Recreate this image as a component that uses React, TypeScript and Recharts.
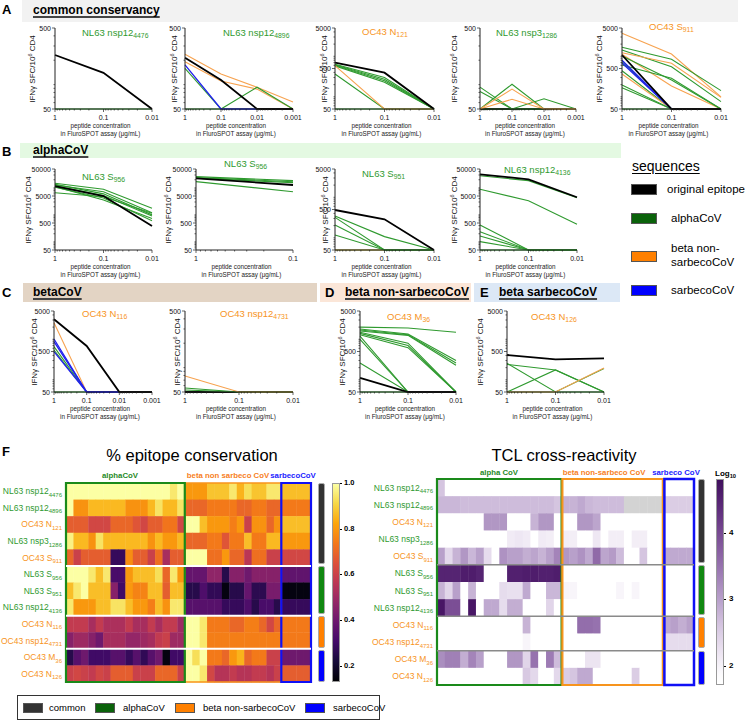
import React from 'react';
import { LineChart, Line, XAxis, YAxis, ScatterChart, Scatter, ReferenceArea, ReferenceLine } from 'recharts';

const FONT = 'Arial, "Liberation Sans", Helvetica, sans-serif';
const GREEN = '#2f9a2f';
const ORANGE = '#f7941d';
const BLUE = '#1a1aff';

// ---------------- line-panel data: [colour, values at each concentration] ----------------
const X2 = [1, 0.1];
const X3 = [1, 0.1, 0.01];
const X4 = [1, 0.1, 0.01, 0.001];

const A1: [string, number[]][] = [['lg', [50, 50, 50]], ['k', [232, 140, 50]]];
const A2: [string, number[]][] = [
  ['lg', [50, 50, 50, 50]], ['o', [237, 135, 93, 61]], ['o', [192, 111, 88, 50]],
  ['g', [159, 50, 93, 50]], ['b', [175, 50, 50, 50]], ['k', [215, 114, 50, 50]],
];
const A3: [string, number[]][] = [
  ['lg', [50, 50, 50]], ['g', [640, 300, 50]], ['g', [620, 270, 50]], ['g', [600, 250, 50]],
  ['g', [580, 230, 50]], ['g', [366, 50, 50]], ['o', [587, 50, 50]], ['k', [695, 394, 50]],
];
const A4: [string, number[]][] = [
  ['lg', [50, 50, 50, 50]], ['k', [50, 50, 50, 50]], ['g', [93, 50, 50, 50]], ['g', [82, 50, 50, 50]],
  ['g', [50, 101, 50, 50]], ['g', [50, 50, 67, 50]], ['o', [50, 88, 50, 50]], ['o', [50, 66, 50, 50]],
];
const A5: [string, number[]][] = [
  ['lg', [50, 50, 50]], ['o', [3700, 1140, 100]], ['g', [1670, 843, 142]], ['g', [1430, 554, 76]],
  ['o', [1227, 672, 97]], ['o', [1122, 185, 50]], ['g', [1018, 260, 50]], ['g', [610, 286, 50]],
  ['g', [736, 50, 50]], ['g', [441, 50, 50]], ['o', [366, 50, 50]], ['g', [196, 50, 50]],
  ['g', [168, 50, 50]], ['b', [800, 50, 50]], ['b', [680, 50, 50]], ['k', [1078, 50, 50]],
];
const B1: [string, number[]][] = [
  ['g', [14800, 8850, 1750]], ['g', [12800, 7230, 1200]], ['g', [11100, 3550, 740]],
  ['g', [13500, 6000, 1000]], ['g', [12000, 5200, 900]], ['g', [6630, 4700, 1140]],
  ['g', [10500, 4200, 600]], ['k', [11700, 5000, 387]],
];
const B2: [string, number[]][] = [
  ['g', [26000, 18500]], ['g', [24200, 16900]], ['g', [23000, 15600]], ['g', [17000, 7230]], ['k', [22600, 12800]],
];
const B3: [string, number[]][] = [
  ['lg', [50, 50, 50]], ['o', [50, 50, 50]], ['g', [346, 107, 50]], ['g', [320, 50, 50]],
  ['g', [207, 50, 50]], ['g', [117, 50, 50]], ['k', [486, 286, 50]],
];
const B4: [string, number[]][] = [
  ['lg', [50, 50, 50]], ['g', [28000, 18500, 4300]], ['g', [8850, 3350, 448]], ['g', [422, 50, 50]],
  ['g', [238, 50, 50]], ['g', [165, 50, 50]], ['g', [102, 50, 50]], ['k', [31700, 20800, 4500]],
];
const C1: [string, number[]][] = [
  ['lg', [50, 50, 50, 50]], ['o', [2570, 50, 50, 50]], ['g', [658, 50, 50, 50]], ['g', [544, 50, 50, 50]],
  ['b', [1018, 50, 50, 50]], ['b', [873, 50, 50, 50]], ['b', [494, 50, 50, 50]], ['k', [3120, 684, 50, 50]],
];
const C2: [string, number[]][] = [
  ['k', [50, 50, 50]], ['g', [56, 50, 50]], ['g', [53, 50, 50]], ['o', [79, 50, 50]],
];
const D1: [string, number[]][] = [
  ['lg', [50, 50, 50]], ['g', [2000, 1900, 1500]], ['g', [1800, 1350, 300]], ['g', [1700, 1300, 260]],
  ['g', [1600, 1250, 230]], ['g', [1500, 800, 50]], ['g', [1400, 700, 50]], ['g', [1300, 620, 50]],
  ['g', [1200, 50, 50]], ['g', [1000, 50, 50]], ['g', [260, 50, 50]], ['k', [111, 50, 50]],
];
const E1: [string, number[]][] = [
  ['lg', [50, 50, 50]], ['g', [256, 50, 190]], ['g', [240, 175, 50]], ['g', [50, 175, 50]],
  ['o', [50, 50, 195]], ['k', [410, 321, 340]],
];

// ---------------- heatmap data ----------------
const ROW_NAMES = ['NL63 nsp12', 'NL63 nsp12', 'OC43 N', 'NL63 nsp3', 'OC43 S', 'NL63 S', 'NL63 S', 'NL63 nsp12', 'OC43 N', 'OC43 nsp12', 'OC43 M', 'OC43 N'];
const ROW_SUBS = ['4476', '4896', '121', '1286', '911', '956', '951', '4136', '116', '4731', '36', '126'];

const consAlpha = [
  [1, 1, 1, 1, 1, 1, 1, 1, 1, 1, 1, 1, 1, 1, 0.95, 1],
  [1, .79, .79, .86, .86, .86, .86, .86, .79, .79, .79, .86, .94, .86, .86, .94],
  [.68, .68, .68, .62, .62, .62, .7, .7, .7, .66, .62, .68, .68, .73, .73, .62],
  [.97, .86, .86, .79, .94, .86, .86, .86, .86, .86, .86, .79, .86, .8, .8, .86],
  [.7, .6, .68, .68, .68, .68, .28, .28, .78, .68, .68, .6, .72, .52, .68, .68],
  [1, 1, 1, .95, .87, .95, .32, .32, .8, .87, .87, .87, .93, .7, .95, .8],
  [.87, .95, 1, .87, .87, .87, .45, .3, .8, .76, .76, .87, .87, .68, .87, .87],
  [.95, .8, .8, .8, .87, .87, .94, .94, .87, .8, .8, .75, .87, .79, .95, .95],
  [.58, .58, .58, .52, .58, .53, .53, .53, .58, .52, .52, .58, .52, .58, .58, .5],
  [.45, .5, .5, .45, .4, .52, .52, .52, .48, .48, .5, .52, .58, .6, .5, .5],
  [.25, .35, .4, .3, .3, .3, .35, .35, .28, .35, .27, .35, .4, .15, .3, .3],
  [.6, .62, .6, .58, .62, .6, .68, .68, .68, .6, .6, .6, .7, .7, .7, .6],
];
const consBeta = [
  [.8, .8, .8, .88, .88, .88, .95, .85, .93, .88, .88, .95, .95],
  [.7, .7, .7, .74, .74, .74, .74, .7, .7, .74, .74, .7, .7],
  [1, 1, .87, .8, .8, .8, .75, .8, .6, .79, .79, .7, .79],
  [.7, .7, .7, .74, .74, .66, .74, .74, .87, .74, .74, .86, .86],
  [1, 1, 1, .72, .72, .8, .7, .7, .56, .72, .72, .6, .6],
  [.38, .38, .38, .47, .47, .25, .45, .45, .4, .45, .45, .45, .45],
  [.25, .25, .33, .27, .27, .15, .25, .25, .38, .26, .26, .42, .42],
  [.35, .35, .35, .35, .35, .28, .28, .28, .33, .25, .32, .32, .25],
  [1, 1, .95, .74, .74, .74, .7, .7, .75, .75, .7, .62, .7],
  [1, 1, .95, .75, .75, .75, .75, .75, .75, .75, .75, .75, .75],
  [1, .93, 1, .74, .74, .7, .8, .85, .7, .74, .74, .6, .6],
  [1, 1, .95, .62, .55, .55, .58, .55, .55, .58, .58, .55, .6],
];
const consSarb = [
  [.87, .87, .87, .87], [.74, .74, .74, .74], [.87, .87, .87, .87], [.8, .8, .8, .8],
  [.62, .62, .62, .62], [.37, .37, .37, .37], [.15, .15, .15, .15], [.28, .28, .28, .28],
  [.74, .74, .74, .74], [.74, .74, .74, .74], [.4, .4, .4, .4], [.68, .68, .68, .68],
];

const tclAlpha = [
  [2.6, 0, 0, 0, 0, 0, 0, 0, 0, 0, 0, 0, 0, 0, 0, 0],
  [2.75, 2.75, 2.75, 2.7, 2.7, 2.7, 2.7, 2.7, 2.7, 2.7, 2.7, 2.7, 2.7, 2.7, 2.7, 2.6],
  [0, 0, 0, 0, 0, 0, 3.1, 3.1, 3.1, 0, 0, 0, 2.8, 3.1, 3.1, 0],
  [0, 0, 0, 0, 0, 0, 0, 0, 0, 2.1, 2.15, 2.1, 0, 2.1, 2.05, 0],
  [3.0, 2.35, 2.8, 3.1, 2.75, 3.0, 2.3, 0, 3.15, 3.0, 3.0, 2.85, 2.95, 2.8, 3.0, 3.3],
  [4.5, 4.5, 4.5, 4.6, 4.6, 4.5, 0, 0, 0, 4.55, 4.55, 4.6, 4.6, 4.55, 4.55, 4.6],
  [2.8, 2.4, 3.0, 0, 2.8, 0, 0, 0, 2.3, 2.25, 2.25, 2.9, 0, 0, 2.75, 2.75],
  [4.7, 3.95, 3.95, 0, 4.7, 0, 2.9, 2.9, 2.3, 2.85, 2.85, 0, 0, 0, 2.4, 0],
  [0, 0, 0, 0, 0, 0, 0, 0, 0, 0, 0, 2.8, 0, 0, 0, 0],
  [0, 0, 0, 0, 0, 0, 0, 0, 0, 0, 0, 1.95, 0, 0, 0, 0],
  [3.2, 3.35, 3.35, 2.85, 3.3, 3.0, 0, 0, 0, 3.1, 3.1, 2.4, 3.5, 0, 3.4, 2.7],
  [0, 0, 0, 0, 0, 0, 0, 0, 0, 0, 0, 2.55, 2.35, 0, 0, 2.35],
];
const tclBeta = [
  [0, 0, 0, 0, 0, 0, 0, 0, 0, 0, 0, 0, 0],
  [2.8, 2.8, 2.9, 2.75, 2.7, 2.7, 2.7, 2.7, -1, -1, -1, -1, -1],
  [0, 0, 3.1, 3.1, 2.95, 0, 0, 0, 0, 0, 0, 0, 0],
  [2.05, 2.05, 0, 0, 2.15, 0, 2.05, 2.05, 0, 2.05, 2.05, 0, 0],
  [3.1, 3.0, 3.15, 2.9, 3.6, 2.95, 3.05, 2.7, 0, 0, 2.6, 0, 0],
  [0, 0, 0, 0, 0, 0, 0, 0, 0, 0, 0, 0, 0],
  [1.95, 1.95, 0, 0, 0, 0, 0, 1.95, 0, 1.95, 0, 0, 0],
  [0, 0, 0, 0, 0, 0, 0, 0, 0, 0, 0, 0, 0],
  [0, 0, 3.55, 3.55, 3.5, 0, 0, 0, 0, 0, 0, 0, 0],
  [0, 0, 0, 0, 0, 0, 0, 0, 0, 0, 0, 0, 0],
  [0, 0, 0, 2.2, 2.2, 0, 0, 0, 0, 0, 0, 0, 0],
  [2.5, 2.6, 2.9, 2.9, 0, 0, 0, 0, 0, 2.5, 0, 0, 0],
];
const tclSarb = [
  [0, 0, 0, 0], [2.5, 2.5, 2.5, 2.5], [0, 0, 0, 0], [0, 0, 0, 0],
  [2.9, 2.9, 2.9, 2.9], [0, 0, 0, 0], [0, 0, 0, 0], [0, 0, 0, 0],
  [2.9, 3.0, 2.85, 3.0], [2.3, 2.3, 2.3, 2.3], [0, 0, 0, 0], [0, 0, 0, 0],
];

// ---------------- colour helpers ----------------
const LC: Record<string, string> = { k: '#000000', g: '#2f9a2f', o: '#f7a350', b: '#2020ee', lg: '#8ccc8c' };
const LW: Record<string, number> = { k: 1.8, g: 1.1, o: 1.1, b: 1.3, lg: 2.2 };

function hex(h: string) { return [1, 3, 5].map(i => parseInt(h.slice(i, i + 2), 16)); }
function mix(a: string, b: string, t: number) {
  const A = hex(a), B = hex(b);
  return 'rgb(' + A.map((v, i) => Math.round(v + (B[i] - v) * t)).join(',') + ')';
}
function stopsColor(stops: [number, string][], v: number) {
  if (v <= stops[0][0]) return stops[0][1];
  for (let i = 0; i < stops.length - 1; i++) {
    if (v <= stops[i + 1][0]) return mix(stops[i][1], stops[i + 1][1], (v - stops[i][0]) / (stops[i + 1][0] - stops[i][0]));
  }
  return stops[stops.length - 1][1];
}
const INF = ['#000004', '#160b39', '#420a68', '#6a176e', '#932667', '#bc3754', '#dd513a', '#f37819', '#fca50a', '#f6d746', '#fcffa4'];
const INF_LO = 0.13;
const INF_STOPS: [number, string][] = INF.map((c, i) => [INF_LO + (1 - INF_LO) * i / 10, c]);
const inferno = (v: number) => stopsColor(INF_STOPS, v);
const PUR_STOPS: [number, string][] = [[1.8, '#ffffff'], [2.2, '#ece4f1'], [2.6, '#d5c5e0'], [3.0, '#b8a0ca'], [3.5, '#9672ae'], [4.0, '#784a92'], [4.4, '#5c2a79'], [4.8, '#41105e']];
const purples = (v: number) => (v < 0 ? '#d3d3d3' : stopsColor(PUR_STOPS, v));

// ---------------- small text helpers ----------------
function T({ x, y, s = 10, c = '#000', b = false, a = 'l', children, style }: any) {
  const tx = a === 'c' ? '-50%' : a === 'r' ? '-100%' : '0';
  return (
    <div style={{ position: 'absolute', left: x, top: y, transform: `translate(${tx},-50%)`, fontSize: s, color: c, fontWeight: b ? 700 : 400, whiteSpace: 'nowrap', lineHeight: 1, fontFamily: FONT, ...style }}>
      {children}
    </div>
  );
}
const Sub = ({ children }: any) => <span style={{ fontSize: '0.72em', verticalAlign: '-0.3em', lineHeight: 0 }}>{children}</span>;

// ---------------- line panel ----------------
function Panel(p: any) {
  const W = 42, MT = 6, PH = 81, XH = 16, MR = 10;
  const { axisX, top, plotW, xs, yMax, series, title, sub, tc, tx, ty, ylx } = p;
  const data = xs.map((x: number, i: number) => {
    const r: any = { x };
    series.forEach((s: [string, number[]], j: number) => { r['s' + j] = s[1][i]; });
    return r;
  });
  const majorsY: number[] = [];
  for (let d = 50; d <= yMax + 1; d *= 10) majorsY.push(d);
  const yTicks: number[] = [];
  majorsY.forEach((m, i) => { yTicks.push(m); if (i < majorsY.length - 1) [6, 7, 8, 9, 10, 20, 30, 40].forEach(k => yTicks.push(m / 5 * k)); });
  const xMin = xs[xs.length - 1];
  const xTicks: number[] = [];
  xs.forEach((m: number, i: number) => { xTicks.push(m); if (i < xs.length - 1) for (let k = 9; k >= 2; k--) xTicks.push(m / 10 * k); });
  const isMajX = (v: number) => xs.some((m: number) => Math.abs(m - v) < m * 1e-6);
  const isMajY = (v: number) => majorsY.some(m => Math.abs(m - v) < m * 1e-6);
  const yTick = (t: any) => {
    const v = t.payload.value; const M = isMajY(v);
    return (
      <g>
        <line x1={W - (M ? 3 : 1.5)} x2={W} y1={t.y} y2={t.y} stroke="#222" strokeWidth={0.7} />
        {M && <text x={W - 4} y={t.y + 2.5} textAnchor="end" fontSize={7} fill="#111" fontFamily={FONT}>{v}</text>}
      </g>
    );
  };
  const xTick = (t: any) => {
    const v = t.payload.value; const M = isMajX(v); const y0 = MT + PH;
    return (
      <g>
        <line x1={t.x} x2={t.x} y1={y0} y2={y0 + (M ? 3 : 1.5)} stroke="#222" strokeWidth={0.7} />
        {M && <text x={t.x} y={y0 + 10.5} textAnchor="middle" fontSize={7} fill="#111" fontFamily={FONT}>{String(v)}</text>}
      </g>
    );
  };
  const cx = axisX + plotW / 2 - 3;
  return (
    <>
      <div style={{ position: 'absolute', left: axisX - W, top: top - MT }}>
        <LineChart width={W + plotW + MR} height={MT + PH + XH} data={data} margin={{ top: MT, right: MR, bottom: 0, left: 0 }}>
          <XAxis dataKey="x" type="number" scale="log" domain={[xMin, 1]} reversed ticks={xTicks} interval={0} tick={xTick} tickLine={false} axisLine={{ stroke: '#222' }} height={XH} />
          <YAxis type="number" scale="log" domain={[50, yMax]} ticks={yTicks} interval={0} tick={yTick} tickLine={false} axisLine={{ stroke: '#222' }} width={W} />
          {series.map((s: [string, number[]], j: number) => (
            <Line key={j} dataKey={'s' + j} type="linear" stroke={LC[s[0]]} strokeWidth={LW[s[0]]} dot={false} isAnimationActive={false} />
          ))}
        </LineChart>
      </div>
      <T x={tx} y={ty} s={9.5} c={tc}>{title}<Sub>{sub}</Sub></T>
      <div style={{ position: 'absolute', left: ylx - 50, top: top + PH / 2 - 5, width: 100, height: 10, lineHeight: '10px', textAlign: 'center', fontSize: 8, transform: 'rotate(-90deg)', whiteSpace: 'nowrap', fontFamily: FONT, color: '#111' }}>
        IFNγ SFC/10<span style={{ fontSize: '0.7em', verticalAlign: '0.45em', lineHeight: 0 }}>6</span> CD4
      </div>
      <T x={cx} y={top + PH + 17} s={6.3} a="c" c="#222">peptide concentration</T>
      <T x={cx} y={top + PH + 25} s={6.3} a="c" c="#222">in FluroSPOT assay (μg/mL)</T>
    </>
  );
}

const PANELS = [
  { axisX: 55, top: 28, plotW: 97, xs: X3, yMax: 500, series: A1, title: 'NL63 nsp12', sub: '4476', tc: GREEN, tx: 82, ty: 33, ylx: 33 },
  { axisX: 185, top: 28, plotW: 108, xs: X4, yMax: 500, series: A2, title: 'NL63 nsp12', sub: '4896', tc: GREEN, tx: 223, ty: 33, ylx: 175 },
  { axisX: 335, top: 28, plotW: 99, xs: X3, yMax: 5000, series: A3, title: 'OC43 N', sub: '121', tc: ORANGE, tx: 362, ty: 32, ylx: 325 },
  { axisX: 480, top: 28, plotW: 96, xs: X4, yMax: 500, series: A4, title: 'NL63 nsp3', sub: '1286', tc: GREEN, tx: 496, ty: 33, ylx: 455 },
  { axisX: 622, top: 28, plotW: 99, xs: X3, yMax: 5000, series: A5, title: 'OC43 S', sub: '911', tc: ORANGE, tx: 649, ty: 27, ylx: 600 },
  { axisX: 55, top: 169, plotW: 97, xs: X3, yMax: 50000, series: B1, title: 'NL63 S', sub: '956', tc: GREEN, tx: 82, ty: 177, ylx: 29 },
  { axisX: 196, top: 169, plotW: 97, xs: X2, yMax: 50000, series: B2, title: 'NL63 S', sub: '956', tc: GREEN, tx: 224, ty: 164, ylx: 169 },
  { axisX: 335, top: 169, plotW: 99, xs: X3, yMax: 5000, series: B3, title: 'NL63 S', sub: '951', tc: GREEN, tx: 362, ty: 174, ylx: 326 },
  { axisX: 480, top: 169, plotW: 97, xs: X3, yMax: 50000, series: B4, title: 'NL63 nsp12', sub: '4136', tc: GREEN, tx: 504, ty: 170, ylx: 455 },
  { axisX: 54, top: 311, plotW: 98, xs: X4, yMax: 5000, series: C1, title: 'OC43 N', sub: '116', tc: ORANGE, tx: 82, ty: 314, ylx: 35 },
  { axisX: 185, top: 311, plotW: 108, xs: X3, yMax: 500, series: C2, title: 'OC43 nsp12', sub: '4731', tc: ORANGE, tx: 220, ty: 314, ylx: 178 },
  { axisX: 360, top: 311, plotW: 96, xs: X3, yMax: 5000, series: D1, title: 'OC43 M', sub: '36', tc: ORANGE, tx: 387, ty: 317, ylx: 343 },
  { axisX: 507, top: 311, plotW: 97, xs: X3, yMax: 5000, series: E1, title: 'OC43 N', sub: '126', tc: ORANGE, tx: 531, ty: 317, ylx: 481 },
];

// ---------------- heatmap ----------------
const rowColor = (i: number) => (ROW_NAMES[i].startsWith('NL63') ? GREEN : ORANGE);

function Heatmap({ left, top, yW, plotW, plotH, rows, color, sep, sepW, boxes }: any) {
  const MT = 13, MR = 5, MB = 4;
  const nR = rows.length, nC = rows[0].length;
  const cw = plotW / nC, ch = plotH / nR;
  const cells = rows.flatMap((r: number[], i: number) => r.map((v: number, j: number) => ({ x: j + 0.5, y: i + 0.5, v })));
  const ticks = rows.map((_: any, i: number) => i + 0.5);
  const tick = (t: any) => {
    const i = Math.floor(t.payload.value);
    return (
      <text x={yW - 4} y={t.y + 3} textAnchor="end" fontSize={8.5} fill={rowColor(i)} fontFamily={FONT}>
        {ROW_NAMES[i]}<tspan fontSize={6} dy={2.5}>{ROW_SUBS[i]}</tspan>
      </text>
    );
  };
  const W = yW + plotW + MR, H = MT + plotH + MB;
  const margin = { top: MT, right: MR, bottom: MB, left: 0 };
  return (
    <>
      <div style={{ position: 'absolute', left, top: top - MT }}>
        <ScatterChart width={W} height={H} margin={margin}>
          <XAxis type="number" dataKey="x" domain={[0, nC]} hide />
          <YAxis type="number" dataKey="y" domain={[0, nR]} reversed ticks={ticks} interval={0} tick={tick} axisLine={false} tickLine={false} width={yW} />
          <Scatter data={cells} isAnimationActive={false}
            shape={(p: any) => <rect x={p.cx - cw / 2} y={p.cy - ch / 2} width={cw + 0.4} height={ch + 0.4} fill={color(p.payload.v)} />} />
        </ScatterChart>
      </div>
      {/* overlay with the same scales for separators and group boxes */}
      <div style={{ position: 'absolute', left, top: top - MT, pointerEvents: 'none' }}>
        <ScatterChart width={W} height={H} margin={margin}>
          <XAxis type="number" dataKey="x" domain={[0, nC]} hide />
          <YAxis type="number" dataKey="y" domain={[0, nR]} reversed tick={false} axisLine={false} tickLine={false} width={yW} />
          <Scatter data={cells} isAnimationActive={false} shape={() => <g />} />
          {[5, 8, 10].map(y => <ReferenceLine key={y} y={y} stroke={sep} strokeWidth={sepW} ifOverflow="visible" />)}
          {boxes.map((b: any, k: number) => (
            <ReferenceArea key={k} x1={b.x1} x2={b.x2} y1={0} y2={nR} fill="none" fillOpacity={0} stroke={b.c} strokeWidth={b.w} strokeOpacity={1} ifOverflow="visible" />
          ))}
        </ScatterChart>
      </div>
    </>
  );
}

function CatBar({ x, w, segs }: any) {
  const cols = ['#333333', '#118811', '#ff8000', '#0000ff'];
  return <>{segs.map((s: number[], i: number) => (
    <div key={i} style={{ position: 'absolute', left: x, top: s[0], width: w, height: s[1] - s[0], background: cols[i], border: '1px solid #aaa', borderRadius: 2, boxSizing: 'border-box' }} />
  ))}</>;
}

function gradient(fn: (v: number) => string, lo: number, hi: number) {
  const parts: string[] = [];
  for (let i = 0; i <= 20; i++) { const v = hi - (hi - lo) * i / 20; parts.push(`${fn(v)} ${i * 5}%`); }
  return `linear-gradient(to bottom, ${parts.join(',')})`;
}

const LEG = ({ x, y, c }: any) => <div style={{ position: 'absolute', left: x, top: y, width: 26, height: 11, background: c, border: '1px solid #555', boxSizing: 'border-box' }} />;
const LEG2 = ({ x, c }: any) => <div style={{ position: 'absolute', left: x, top: 703, width: 20, height: 10, background: c, border: '1px solid #555', boxSizing: 'border-box' }} />;

const headStyle = { textDecoration: 'underline', textDecorationThickness: '2px', textUnderlineOffset: '2px', textDecorationColor: '#444' };

export default function App() {
  const consRows = consAlpha.map((r, i) => [...r, ...consBeta[i], ...consSarb[i]]);
  const tclRows = tclAlpha.map((r, i) => [...r, ...tclBeta[i], ...tclSarb[i]]);
  const lTop = 483, lH = 199, rTop = 479, rH = 206;
  return (
    <div style={{ position: 'absolute', left: 0, top: 0, width: 748, height: 721, background: '#fff', fontFamily: FONT, overflow: 'hidden' }}>
      {/* section bands */}
      <div style={{ position: 'absolute', left: 22, top: 0, width: 716, height: 22, background: '#f2f2f2' }} />
      <div style={{ position: 'absolute', left: 20, top: 143, width: 601, height: 15, background: '#e4f9e2' }} />
      <div style={{ position: 'absolute', left: 23, top: 283, width: 294, height: 19, background: '#e3d4c4' }} />
      <div style={{ position: 'absolute', left: 320, top: 283, width: 151, height: 19, background: '#fbe6d8' }} />
      <div style={{ position: 'absolute', left: 474, top: 283, width: 146, height: 19, background: '#dce8f6' }} />

      <T x={2} y={9} s={13} b>A</T>
      <T x={33} y={10} s={12} b style={headStyle}>common conservancy</T>
      <T x={2} y={151} s={13} b>B</T>
      <T x={33} y={150} s={12} b style={headStyle}>alphaCoV</T>
      <T x={2} y={292} s={13} b>C</T>
      <T x={33} y={292} s={12} b style={headStyle}>betaCoV</T>
      <T x={325} y={292} s={13} b>D</T>
      <T x={345} y={292} s={12} b style={headStyle}>beta non-sarbecoCoV</T>
      <T x={480} y={292} s={13} b>E</T>
      <T x={499} y={292} s={12} b style={headStyle}>beta sarbecoCoV</T>
      <T x={2} y={451} s={13} b>F</T>

      {PANELS.map((p, i) => <Panel key={i} {...p} />)}

      {/* sequences legend */}
      <T x={632} y={166} s={14} style={{ textDecoration: 'underline', textUnderlineOffset: '2px' }}>sequences</T>
      <LEG x={631} y={184} c="#000000" />
      <T x={667} y={190} s={11.5}>original epitope</T>
      <LEG x={631} y={213} c="#0a620a" />
      <T x={671} y={219} s={11.5}>alphaCoV</T>
      <LEG x={631} y={251} c="#ff8000" />
      <T x={671} y={249} s={11.5}>beta non-</T>
      <T x={671} y={263} s={11.5}>sarbecoCoV</T>
      <LEG x={631} y={285} c="#0000ff" />
      <T x={671} y={291} s={11.5}>sarbecoCoV</T>

      {/* F titles */}
      <T x={192} y={455} s={16.5} a="c">% epitope conservation</T>
      <T x={564} y={455} s={16.5} a="c">TCL cross-reactivity</T>

      <T x={120} y={476} s={7.8} b c="#1f8a1f" a="c">alphaCoV</T>
      <T x={228} y={476} s={7.8} b c="#f7801d" a="c">beta non sarbeco CoV</T>
      <T x={293} y={476} s={7.8} b c={BLUE} a="c">sarbecoCoV</T>
      <T x={499} y={473} s={7.8} b c="#1f8a1f" a="c">alpha CoV</T>
      <T x={604} y={473} s={7.8} b c="#f7801d" a="c">beta non-sarbeco CoV</T>
      <T x={676} y={473} s={7.8} b c={BLUE} a="c">sarbeco CoV</T>

      <Heatmap left={0} top={lTop} yW={66} plotW={245} plotH={lH} rows={consRows} color={inferno} sep="#ffffff" sepW={2}
        boxes={[{ x1: 16, x2: 29, c: '#f7941d', w: 1.5 }, { x1: 0, x2: 16, c: '#1a8a1a', w: 2.2 }, { x1: 29, x2: 33, c: '#1010f5', w: 2.2 }]} />
      <Heatmap left={370} top={rTop} yW={67} plotW={257} plotH={rH} rows={tclRows} color={purples} sep="#8a8a8a" sepW={1.5}
        boxes={[{ x1: 0, x2: 16, c: '#1a8a1a', w: 2.2 }, { x1: 16.1, x2: 29, c: '#f7941d', w: 2.2 }, { x1: 29.2, x2: 33, c: '#1010f5', w: 2.5 }]} />

      <CatBar x={318} w={7} segs={[[483, 564], [566, 614], [616, 648], [650, 682]]} />
      <CatBar x={698} w={7} segs={[[479, 563], [565, 615], [617, 648], [651, 685]]} />

      {/* colour bars */}
      <div style={{ position: 'absolute', left: 332, top: lTop, width: 8, height: lH, background: gradient(inferno, INF_LO, 1), border: '1px solid #999', boxSizing: 'border-box' }} />
      {[1.0, 0.8, 0.6, 0.4, 0.2].map(v => {
        const y = lTop + (1 - v) / (1 - INF_LO) * lH;
        return <React.Fragment key={v}>
          <div style={{ position: 'absolute', left: 340, top: y, width: 2, height: 1, background: '#000' }} />
          <T x={344} y={y} s={7.5} b>{v.toFixed(1)}</T>
        </React.Fragment>;
      })}
      <div style={{ position: 'absolute', left: 716, top: rTop, width: 8, height: rH, background: gradient(purples, 1.72, 4.8), border: '1px solid #999', boxSizing: 'border-box' }} />
      {[4, 3, 2].map(v => {
        const y = rTop + (4.8 - v) / (4.8 - 1.72) * rH;
        return <React.Fragment key={v}>
          <div style={{ position: 'absolute', left: 724, top: y, width: 2, height: 1, background: '#000' }} />
          <T x={729} y={y} s={8} b>{v}</T>
        </React.Fragment>;
      })}
      <T x={715} y={474} s={8} b>Log<Sub>10</Sub></T>

      {/* bottom legend */}
      <div style={{ position: 'absolute', left: 17, top: 695, width: 363, height: 25, border: '1px solid #333', boxSizing: 'border-box' }} />
      <LEG2 x={23} c="#333333" />
      <T x={49} y={708} s={9.5}>common</T>
      <LEG2 x={95} c="#0a620a" />
      <T x={123} y={708} s={9.5}>alphaCoV</T>
      <LEG2 x={175} c="#ff8000" />
      <T x={203} y={708} s={9.5}>beta non-sarbecoCoV</T>
      <LEG2 x={305} c="#0000ff" />
      <T x={333} y={708} s={9.5}>sarbecoCoV</T>
    </div>
  );
}
